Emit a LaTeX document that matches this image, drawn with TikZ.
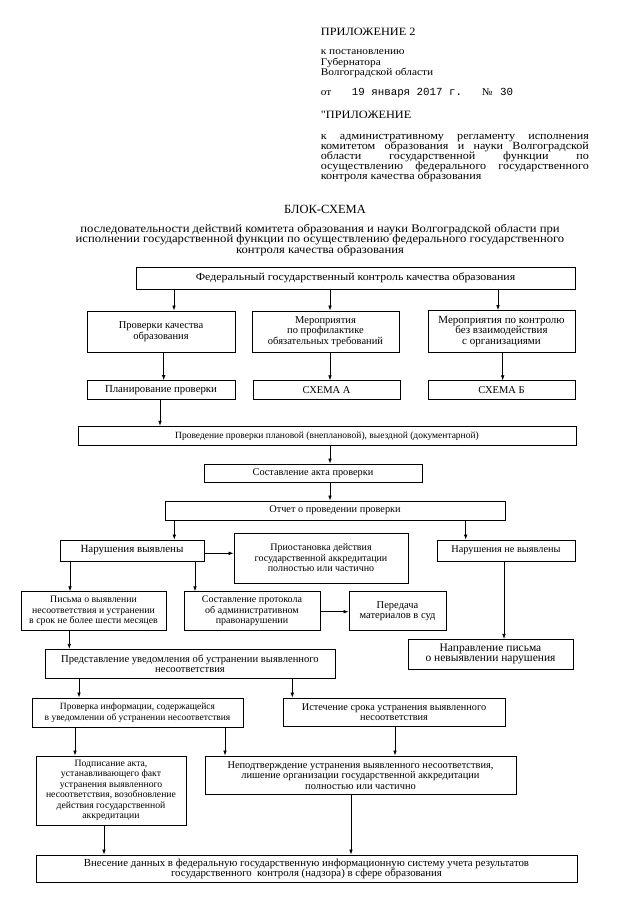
\documentclass[tikz,border=0pt]{standalone}
\usepackage{fontspec}
\setmainfont{Liberation Serif}
\newfontfamily\widefnt{Liberation Serif}[FakeStretch=1.1]
\newfontfamily\monofnt{Liberation Mono}
\usetikzlibrary{arrows.meta}
\newcommand\fsz[1]{\fontsize{#1}{10.5}\selectfont}
\begin{document}
\begin{tikzpicture}[x=1pt,y=-1pt,
  box/.style={draw, line width=0.8pt, align=center, inner sep=1pt},
  arr/.style={-{Latex[length=5pt,width=3.6pt]}, line width=0.7pt},
  hdr/.style={anchor=base west, inner sep=0pt, font=\widefnt\fsz{10.3}},
  par/.style={anchor=base west, inner sep=0pt, font=\widefnt\fsz{11}},
  ttl/.style={anchor=base, inner sep=0pt, font=\widefnt\fsz{11.5}}]
\useasboundingbox (0,0) rectangle (640,905);
\fill[white] (0,0) rectangle (640,905);
% header
\node[hdr, font=\widefnt\fsz{11.2}] (h1) at (320.7,35.7) {ПРИЛОЖЕНИЕ 2};
\node[hdr] (h2) at (320.7,54.3) {к постановлению};
\node[hdr] (h3) at (320.7,65) {Губернатора};
\node[hdr] (h4) at (320.7,75.5) {Волгоградской области};
\node[hdr] (h5a) at (320.7,95) {от};
\node[hdr, font=\monofnt\fsz{10.8}] (h5b) at (351.7,95) {19 января 2017 г.};
\node[hdr] (h5c) at (481.7,95) {№};
\node[hdr, font=\monofnt\fsz{10.8}] (h5d) at (500,95) {30};
\node[hdr, font=\widefnt\fsz{11.2}] (h6) at (320.7,118.5) {\char34ПРИЛОЖЕНИЕ};
\node[par] (p1) at (320.7,139) {\makebox[268pt][s]{к административному регламенту исполнения}};
\node[par] (p2) at (320.7,149) {\makebox[268pt][s]{комитетом образования и науки Волгоградской}};
\node[par] (p3) at (320.7,159) {\makebox[268pt][s]{области государственной функции по}};
\node[par] (p4) at (320.7,169) {\makebox[268pt][s]{осуществлению федерального государственного}};
\node[par] (p5) at (320.7,179) {контроля качества образования};
% title
\node[ttl, font=\fsz{12.5}] (t0) at (325,213) {БЛОК-СХЕМА};
\node[ttl] (t1) at (320,232.3) {последовательности действий комитета образования и науки Волгоградской области при};
\node[ttl] (t2) at (320,242.7) {исполнении государственной функции по осуществлению федерального государственного};
\node[ttl] (t3) at (320,253) {контроля качества образования};
% boxes
\node[box, minimum width=439pt, minimum height=22pt, font=\widefnt\fsz{10.8}] (fed) at (355.5,278) {Федеральный государственный контроль качества образования};
\node[box, minimum width=148pt, minimum height=41pt, font=\fsz{10.5}] (prov) at (161,331.5) {Проверки качества\\образования};
\node[box, minimum width=147pt, minimum height=41pt, font=\fsz{10.5}] (prof) at (325.5,331.5) {Мероприятия\\по профилактике\\обязательных требований};
\node[box, minimum width=147pt, minimum height=42pt, font=\fsz{11}] (kontr) at (501.5,331.5) {Мероприятия по контролю\\без взаимодействия\\с организациями};
\node[box, minimum width=148pt, minimum height=19pt, font=\fsz{10.8}] (plan) at (161,390) {Планирование проверки};
\node[box, minimum width=147pt, minimum height=18.5pt, font=\fsz{10.5}] (shA) at (326.5,390) {СХЕМА А};
\node[box, minimum width=147pt, minimum height=18.5pt, font=\fsz{10.5}] (shB) at (501.5,390) {СХЕМА Б};
\node[box, minimum width=498pt, minimum height=19.5pt, font=\fsz{9.5}] (provd) at (327,436) {Проведение проверки плановой (внеплановой), выездной (документарной)};
\node[box, minimum width=218pt, minimum height=18.7pt, font=\fsz{10.3}] (akt) at (313,473.3) {Составление акта проверки};
\node[box, minimum width=340pt, minimum height=19pt, font=\fsz{10.3}] (otch) at (335,510.5) {Отчет о проведении проверки};
\node[box, minimum width=144pt, minimum height=21pt, font=\fsz{11}] (narV) at (132,550.5) {Нарушения выявлены};
\node[box, minimum width=174pt, minimum height=50pt, font=\fsz{10}] (priost) at (321,558) {Приостановка действия\\государственной аккредитации\\полностью или частично};
\node[box, minimum width=138pt, minimum height=21pt, font=\fsz{10.3}] (narNV) at (506,550.5) {Нарушения не выявлены};
\node[box, minimum width=145pt, minimum height=39pt, font=\fsz{9.8}] (pisma) at (93.5,611.2) {Письма о выявлении\\несоответствия и устранении\\в срок не более шести месяцев};
\node[box, minimum width=136pt, minimum height=39pt, font=\fsz{10}] (protok) at (252,611.2) {Составление протокола\\об административном\\правонарушении};
\node[box, minimum width=97pt, minimum height=39pt, font=\fsz{10.5}] (pered) at (397.5,611.2) {Передача\\материалов в суд};
\node[box, minimum width=165pt, minimum height=29.7pt, font=\fsz{11.5}] (napr) at (490.5,654.2) {Направление письма\\о невыявлении нарушения};
\node[box, minimum width=290pt, minimum height=29pt, font=\fsz{10.6}] (predst) at (190,663.8) {Представление уведомления об устранении выявленного\\несоответствия};
\node[box, minimum width=211pt, minimum height=29pt, font=\fsz{9.5}] (pinf) at (137.5,712.5) {Проверка информации, содержащейся\\в уведомлении об устранении несоответствия};
\node[box, minimum width=222pt, minimum height=28pt, font=\fsz{10.3}] (istech) at (394,712) {Истечение срока устранения выявленного\\несоответствия};
\node[box, minimum width=150pt, minimum height=69pt, font=\fsz{9.7}] (podp) at (111,790.5) {Подписание акта,\\устанавливающего факт\\устранения выявленного\\несоответствия, возобновление\\действия государственной\\аккредитации};
\node[box, minimum width=311pt, minimum height=38.5pt, font=\fsz{10.4}] (nepod) at (360.5,775.2) {Неподтверждение устранения выявленного несоответствия,\\лишение организации государственной аккредитации\\полностью или частично};
\node[box, minimum width=541pt, minimum height=27.5pt, font=\fsz{10.8}] (vnes) at (306.5,868.7) {Внесение данных в федеральную государственную информационную систему учета результатов\\государственного\ \ контроля (надзора) в сфере образования};
% connectors
\draw[arr] (fed.south -| 174,0) -- (prov.north -| 174,0);
\draw[arr] (fed.south -| 330,0) -- (prof.north -| 330,0);
\draw[arr] (fed.south -| 498,0) -- (kontr.north -| 498,0);
\draw[arr] (prov.south -| 163.7,0) -- (plan.north -| 163.7,0);
\draw[arr] (prof.south -| 330,0) -- (shA.north -| 330,0);
\draw[arr] (kontr.south -| 502.7,0) -- (shB.north -| 502.7,0);
\draw[arr] (plan.south -| 160,0) -- (provd.north -| 160,0);
\draw[arr] (provd.south -| 330,0) -- (akt.north -| 330,0);
\draw[arr] (akt.south -| 330,0) -- (otch.north -| 330,0);
\draw[arr] (otch.south -| 174.3,0) -- (narV.north -| 174.3,0);
\draw[arr] (otch.south -| 465.7,0) -- (narNV.north -| 465.7,0);
\draw[arr] (narV.east |- 0,553.3) -- (priost.west |- 0,553.3);
\draw[arr] (narV.south -| 70,0) -- (pisma.north -| 70,0);
\draw[arr] (narV.south -| 195,0) -- (protok.north -| 195,0);
\draw[arr] (narNV.south -| 504,0) -- (napr.north -| 504,0);
\draw[arr] (protok.east |- 0,611.7) -- (pered.west |- 0,611.7);
\draw[arr] (pisma.south -| 69.3,0) -- (predst.north -| 69.3,0);
\draw[arr] (predst.south -| 79,0) -- (pinf.north -| 79,0);
\draw[arr] (predst.south -| 292.3,0) -- (istech.north -| 292.3,0);
\draw[arr] (pinf.south -| 75,0) -- (podp.north -| 75,0);
\draw[arr] (pinf.south -| 225,0) -- (nepod.north -| 225,0);
\draw[arr] (istech.south -| 395,0) -- (nepod.north -| 395,0);
\draw[arr] (podp.south -| 104,0) -- (vnes.north -| 104,0);
\draw[arr] (nepod.south -| 351,0) -- (vnes.north -| 351,0);
\end{tikzpicture}
\end{document}
